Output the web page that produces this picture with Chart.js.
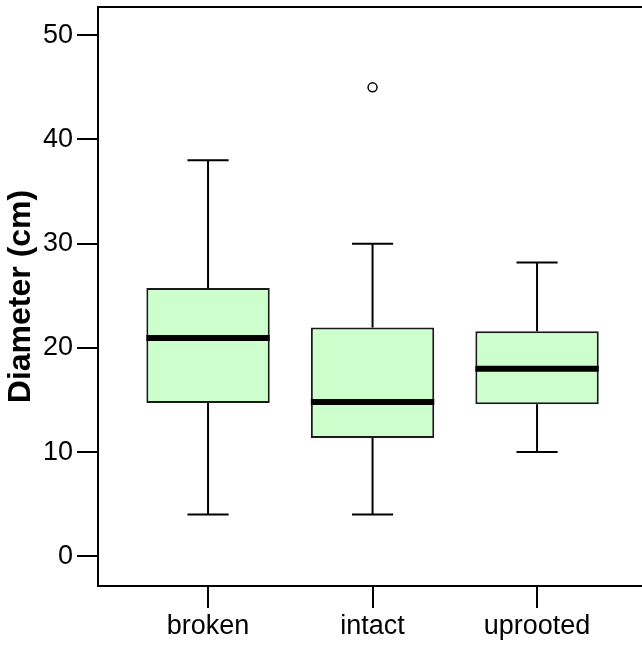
<!DOCTYPE html>
<html>
<head>
<meta charset="utf-8">
<script src="https://cdn.jsdelivr.net/npm/chart.js@4"></script>
<style>
  html, body { margin: 0; padding: 0; background: #fff; overflow: hidden; }
  #wrap { width: 642px; height: 645px; }
</style>
</head>
<body>
<div id="wrap"><canvas id="boxChart"></canvas></div>
<script>
// Datos del boxplot
const categories = ['broken', 'intact', 'uprooted'];
const lowerWhisker = [4, 4, 10.0];
const q1 = [14.7, 11.35, 14.6];
const median = [20.95, 14.8, 18.0];
const q3 = [25.75, 21.95, 21.6];
const upperWhisker = [38, 30, 28.2];
const outliers = [[], [45], []];
const yTicks = [0, 10, 20, 30, 40, 50];

const FONT = '"Liberation Sans", Arial, Helvetica, sans-serif';

// Plugin para bigotes, topes, mediana y línea superior del marco
const boxExtras = {
    id: 'boxExtras',
    afterDatasetsDraw(chart) {
        const ctx = chart.ctx;
        const x = chart.scales.x;
        const y = chart.scales.y;
        const bars = chart.getDatasetMeta(0).data;
        ctx.save();
        ctx.strokeStyle = '#000';
        ctx.lineCap = 'butt';
        categories.forEach((c, i) => {
            const cx = x.getPixelForValue(i + 1);
            const capL = x.getPixelForValue(i + 1 - 0.125);
            const capR = x.getPixelForValue(i + 1 + 0.125);
            ctx.lineWidth = 2;
            ctx.beginPath();
            ctx.moveTo(cx, y.getPixelForValue(q3[i]));
            ctx.lineTo(cx, y.getPixelForValue(upperWhisker[i]));
            ctx.moveTo(cx, y.getPixelForValue(q1[i]));
            ctx.lineTo(cx, y.getPixelForValue(lowerWhisker[i]));
            ctx.moveTo(capL, y.getPixelForValue(upperWhisker[i]));
            ctx.lineTo(capR, y.getPixelForValue(upperWhisker[i]));
            ctx.moveTo(capL, y.getPixelForValue(lowerWhisker[i]));
            ctx.lineTo(capR, y.getPixelForValue(lowerWhisker[i]));
            ctx.stroke();
            // mediana
            const bar = bars[i];
            const half = bar.width / 2;
            ctx.lineWidth = 6;
            ctx.beginPath();
            ctx.moveTo(bar.x - half, y.getPixelForValue(median[i]));
            ctx.lineTo(bar.x + half, y.getPixelForValue(median[i]));
            ctx.stroke();
        });
        // línea superior del marco
        const a = chart.chartArea;
        ctx.lineWidth = 2;
        ctx.beginPath();
        ctx.moveTo(a.left, a.top);
        ctx.lineTo(a.right, a.top);
        ctx.stroke();
        ctx.restore();
    }
};

const outlierPoints = [];
outliers.forEach((list, i) => list.forEach(v => outlierPoints.push({ x: i + 1, y: v })));

new Chart(document.getElementById('boxChart'), {
    type: 'bar',
    data: {
        datasets: [{
            type: 'bar',
            data: categories.map((c, i) => ({ x: i + 1, y: [q1[i], q3[i]] })),
            backgroundColor: '#CCFFCC',
            borderColor: '#1a1a1a',
            borderWidth: 2,
            borderSkipped: false,
            barPercentage: 0.75,
            categoryPercentage: 1
        }, {
            type: 'scatter',
            data: outlierPoints,
            pointStyle: 'circle',
            pointRadius: 4.5,
            pointBackgroundColor: '#fff',
            pointBorderColor: '#000',
            pointBorderWidth: 1.5
        }]
    },
    options: {
        responsive: true,
        maintainAspectRatio: false,
        animation: false,
        layout: { autoPadding: false, padding: { top: 7, right: 0, left: 0, bottom: 0 } },
        plugins: { legend: { display: false }, tooltip: { enabled: false } },
        scales: {
            x: {
                type: 'linear',
                offset: false,
                min: 0.331,
                max: 3.638,
                afterBuildTicks: s => { s.ticks = categories.map((c, i) => ({ value: i + 1 })); },
                afterFit: s => { s.height = 59; s.paddingLeft = 0; s.paddingRight = 0; },
                ticks: {
                    callback: v => categories[v - 1] || '',
                    color: '#000',
                    padding: 2,
                    maxRotation: 0,
                    autoSkip: false,
                    font: { family: FONT, size: 27 }
                },
                grid: { drawOnChartArea: false, drawTicks: true, tickLength: 22, color: '#000', lineWidth: 2, offset: false },
                border: { display: true, color: '#000', width: 2 }
            },
            y: {
                min: -2.85,
                max: 52.71,
                afterBuildTicks: s => { s.ticks = yTicks.map(v => ({ value: v })); },
                afterFit: s => { s.width = 98; s.paddingTop = 0; s.paddingBottom = 0; },
                ticks: {
                    color: '#000',
                    padding: 4,
                    font: { family: FONT, size: 27 }
                },
                grid: { drawOnChartArea: false, drawTicks: true, tickLength: 21, color: '#000', lineWidth: 2 },
                border: { display: true, color: '#000', width: 2 },
                title: {
                    display: true,
                    text: 'Diameter (cm)',
                    color: '#000',
                    padding: { top: 2, bottom: 0 },
                    font: { family: FONT, size: 32, weight: 'bold' }
                }
            }
        }
    },
    plugins: [boxExtras]
});
</script>
</body>
</html>
